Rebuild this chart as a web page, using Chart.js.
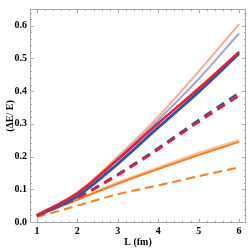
<!DOCTYPE html>
<html><head><meta charset="utf-8">
<script src="https://cdn.jsdelivr.net/npm/chart.js@4"></script>
<style>html,body{margin:0;padding:0;background:#fff}#c{display:block}</style>
</head><body>
<div style="width:249px;height:249px"><canvas id="c" width="249" height="249"></canvas></div>
<script>
const L = [1, 2, 3, 4, 5, 6];
const salmonSolid   = [0.021, 0.090, 0.200, 0.322, 0.460, 0.605];
const lavenderSolid = [0.021, 0.088, 0.195, 0.312, 0.437, 0.577];
const blueSolid     = [0.019, 0.079, 0.178, 0.289, 0.398, 0.515];
const redSolid      = [0.021, 0.088, 0.191, 0.302, 0.408, 0.520];
const blueDashed    = [0.020, 0.074, 0.146, 0.226, 0.312, 0.395];
const redDashed     = [0.019, 0.073, 0.143, 0.222, 0.306, 0.386];
const paleOrange    = [0.020, 0.070, 0.120, 0.166, 0.211, 0.250];
const orangeSolid   = [0.019, 0.068, 0.117, 0.162, 0.205, 0.245];
const orangeDashed  = [0.015, 0.050, 0.085, 0.112, 0.140, 0.167];
const yTicks = [0.0, 0.1, 0.2, 0.3, 0.4, 0.5, 0.6];
const xTicks = [1, 2, 3, 4, 5, 6];

const pts = arr => arr.map((v, i) => ({x: L[i], y: v}));
let ord = 0;
const ds = (data, color, width, dash) => ({
  data: pts(data), borderColor: color, borderWidth: width, borderDash: dash || [],
  pointRadius: 0, fill: false, cubicInterpolationMode: 'monotone', borderCapStyle: 'butt',
  order: 100 - (ord++)
});

const frameTicks = {
  id: 'frameTicks',
  afterDraw(chart) {
    const {ctx, chartArea: a, scales: {x, y}} = chart;
    ctx.save();
    ctx.strokeStyle = '#a8a8a8';
    ctx.lineWidth = 1;
    ctx.strokeRect(a.left + 0.5, a.top + 0.5, a.right - a.left - 1, a.bottom - a.top - 1);
    ctx.beginPath();
    for (let v = 0.8; v <= 6.2; v += 0.2) {
      const xv = Math.round(v * 10) / 10;
      if (xv < x.min || xv > x.max) continue;
      const px = Math.round(x.getPixelForValue(xv)) + 0.5;
      const major = Math.abs(xv - Math.round(xv)) < 1e-6;
      const len = major ? 4 : 2;
      ctx.moveTo(px, a.bottom); ctx.lineTo(px, a.bottom - len);
      ctx.moveTo(px, a.top); ctx.lineTo(px, a.top + len);
    }
    for (let k = 0; k <= 65; k += 2) {
      const yv = k / 100;
      if (yv < y.min || yv > y.max) continue;
      const py = Math.round(y.getPixelForValue(yv)) + 0.5;
      const major = k % 10 === 0;
      const len = major ? 4 : 2;
      ctx.moveTo(a.left, py); ctx.lineTo(a.left + len, py);
      ctx.moveTo(a.right, py); ctx.lineTo(a.right - len, py);
    }
    ctx.stroke();
    ctx.restore();
  }
};

const font = {family: '"Liberation Serif", "DejaVu Serif", serif', size: 10, weight: 'bold'};

new Chart(document.getElementById('c'), {
  type: 'line',
  data: {
    datasets: [
      ds(salmonSolid, 'rgb(250,172,145)', 2),
      ds(lavenderSolid, 'rgb(160,166,218)', 2),
      ds(paleOrange, 'rgb(250,195,160)', 2.5),
      ds(orangeSolid, 'rgb(245,128,38)', 2),
      ds(orangeDashed, 'rgb(245,128,38)', 2, [9, 5]),
      ds(blueDashed, 'rgb(50,85,170)', 2.5, [9, 6]),
      ds(redDashed, 'rgb(232,30,45)', 2.5, [9, 6]),
      ds(blueSolid, 'rgb(50,85,170)', 3),
      ds(redSolid, 'rgb(232,30,45)', 2.5)
    ]
  },
  options: {
    responsive: false,
    animation: false,
    devicePixelRatio: 1,
    layout: {padding: {top: 4, right: 3, left: 0, bottom: 0}},
    plugins: {legend: {display: false}, tooltip: {enabled: false}},
    scales: {
      x: {
        type: 'linear', min: 0.83, max: 6.17,
        grid: {display: false, drawTicks: false},
        border: {display: false},
        afterBuildTicks: s => { s.ticks = xTicks.map(v => ({value: v})); },
        afterFit: s => { s.height = 26; },
        ticks: {color: '#000', font, padding: 2, callback: v => String(v)},
        title: {display: true, text: 'L (fm)', color: '#000', font, padding: {top: 0, bottom: 1}}
      },
      y: {
        type: 'linear', min: -0.003, max: 0.651,
        grid: {display: false, drawTicks: false},
        border: {display: false},
        afterBuildTicks: s => { s.ticks = yTicks.map(v => ({value: v})); },
        afterFit: s => { s.width = 30; },
        ticks: {color: '#000', font, padding: 3, callback: v => v.toFixed(1)},
        title: {display: true, text: '(ΔE/ E)', color: '#000', font, padding: {top: 4, bottom: 0}}
      }
    }
  },
  plugins: [frameTicks]
});
</script>
</body></html>
